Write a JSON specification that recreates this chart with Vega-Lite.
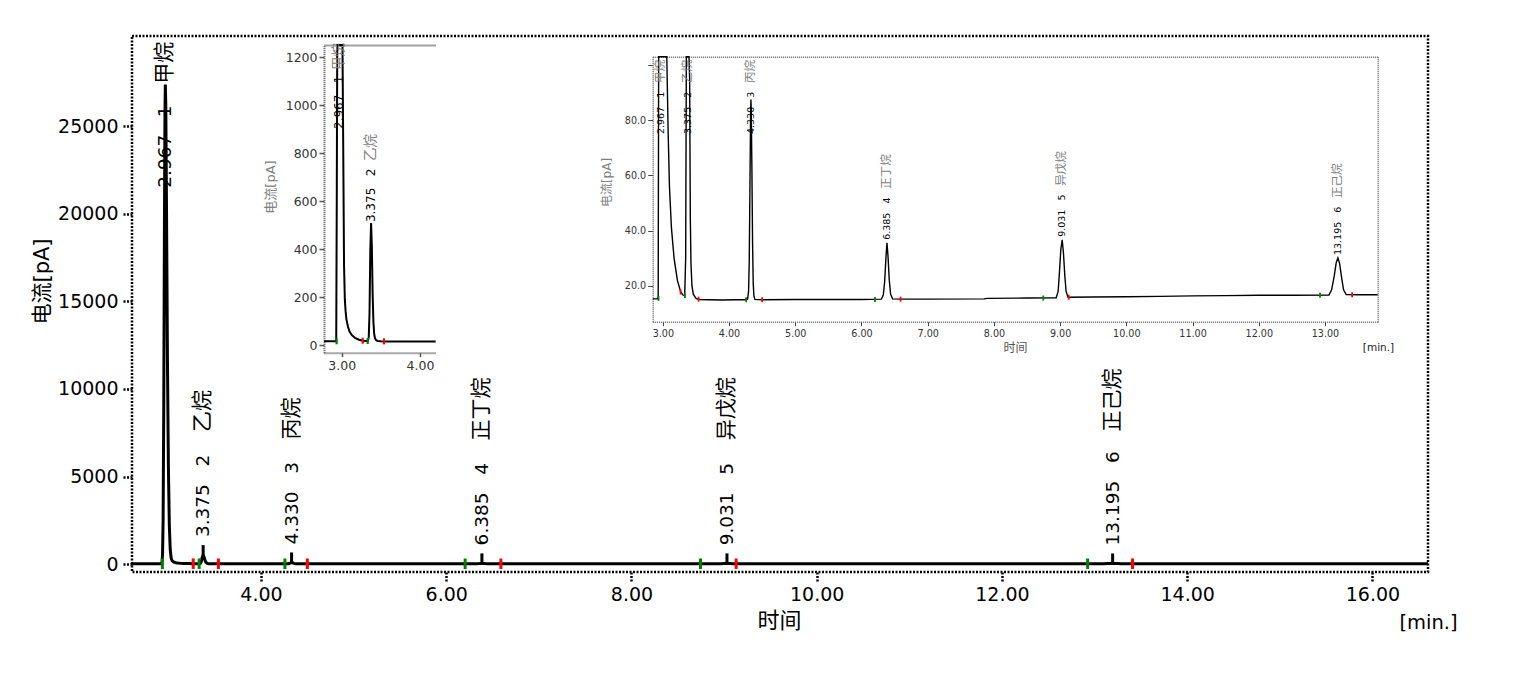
{
  "$schema": "https://vega.github.io/schema/vega-lite/v6.json",
  "width": 1296,
  "height": 536,
  "autosize": {"type": "none"},
  "padding": {"left": 132, "top": 36, "right": 105, "bottom": 110},
  "background": "white",
  "config": {
    "view": {"stroke": "#000", "strokeWidth": 2.5, "strokeDash": [2, 1.5]},
    "axis": {"grid": false}
  },
  "datasets": {
    "chrom": [
      {"t": 2.607, "v": 15.3}, {"t": 2.7, "v": 15.3}, {"t": 2.775, "v": 15.3}, {"t": 2.848, "v": 15.3},
      {"t": 2.92, "v": 15.3}, {"t": 2.93, "v": 16}, {"t": 2.937, "v": 600}, {"t": 2.943, "v": 2500},
      {"t": 2.95, "v": 9000}, {"t": 2.957, "v": 19000}, {"t": 2.963, "v": 25800}, {"t": 2.967, "v": 27400},
      {"t": 2.972, "v": 26200}, {"t": 2.98, "v": 20000}, {"t": 2.99, "v": 11500}, {"t": 3.0, "v": 5500},
      {"t": 3.01, "v": 2200}, {"t": 3.02, "v": 800}, {"t": 3.03, "v": 330}, {"t": 3.04, "v": 190},
      {"t": 3.05, "v": 140}, {"t": 3.06, "v": 108}, {"t": 3.08, "v": 76}, {"t": 3.1, "v": 56},
      {"t": 3.13, "v": 41}, {"t": 3.17, "v": 30}, {"t": 3.22, "v": 22}, {"t": 3.27, "v": 17.8},
      {"t": 3.3, "v": 16.8}, {"t": 3.33, "v": 16.4}, {"t": 3.345, "v": 30}, {"t": 3.355, "v": 130},
      {"t": 3.365, "v": 390}, {"t": 3.375, "v": 508}, {"t": 3.385, "v": 410}, {"t": 3.395, "v": 210},
      {"t": 3.405, "v": 95}, {"t": 3.415, "v": 45}, {"t": 3.425, "v": 28}, {"t": 3.44, "v": 20},
      {"t": 3.46, "v": 17}, {"t": 3.5, "v": 15.5}, {"t": 3.55, "v": 15.1}, {"t": 3.7, "v": 15.0},
      {"t": 3.9, "v": 14.9}, {"t": 4.1, "v": 15.0}, {"t": 4.2, "v": 15.0}, {"t": 4.25, "v": 15.0},
      {"t": 4.28, "v": 15.2}, {"t": 4.295, "v": 18}, {"t": 4.305, "v": 29}, {"t": 4.315, "v": 54},
      {"t": 4.325, "v": 81}, {"t": 4.33, "v": 87.5}, {"t": 4.335, "v": 84}, {"t": 4.345, "v": 63},
      {"t": 4.355, "v": 36}, {"t": 4.365, "v": 21}, {"t": 4.375, "v": 16.5}, {"t": 4.39, "v": 15.1},
      {"t": 4.5, "v": 15.0}, {"t": 5.0, "v": 15.1}, {"t": 5.5, "v": 15.1}, {"t": 6.0, "v": 15.1},
      {"t": 6.3, "v": 15.2}, {"t": 6.33, "v": 16.8}, {"t": 6.35, "v": 21.5}, {"t": 6.37, "v": 30.5},
      {"t": 6.385, "v": 35.6}, {"t": 6.4, "v": 31}, {"t": 6.42, "v": 22}, {"t": 6.44, "v": 17},
      {"t": 6.47, "v": 15.3}, {"t": 6.6, "v": 15.2}, {"t": 7.0, "v": 15.2}, {"t": 7.85, "v": 15.3},
      {"t": 7.9, "v": 15.5}, {"t": 8.5, "v": 15.6}, {"t": 8.94, "v": 15.7}, {"t": 8.97, "v": 18},
      {"t": 8.99, "v": 25}, {"t": 9.01, "v": 33}, {"t": 9.031, "v": 36.7}, {"t": 9.05, "v": 32},
      {"t": 9.07, "v": 24}, {"t": 9.09, "v": 18}, {"t": 9.12, "v": 15.9}, {"t": 9.5, "v": 16.0},
      {"t": 10.0, "v": 16.1}, {"t": 10.5, "v": 16.2}, {"t": 11.0, "v": 16.4}, {"t": 11.5, "v": 16.5},
      {"t": 12.0, "v": 16.6}, {"t": 12.5, "v": 16.6}, {"t": 13.06, "v": 16.7}, {"t": 13.1, "v": 18.6},
      {"t": 13.14, "v": 23.6}, {"t": 13.17, "v": 28.5}, {"t": 13.195, "v": 30.1}, {"t": 13.22, "v": 28.2},
      {"t": 13.25, "v": 23.2}, {"t": 13.28, "v": 18.6}, {"t": 13.32, "v": 16.9}, {"t": 13.5, "v": 16.8},
      {"t": 13.795, "v": 16.8}, {"t": 14.5, "v": 16.9}, {"t": 15.5, "v": 17.0}, {"t": 16.6, "v": 17.0}
    ],
    "marks": [
      {"t": 2.935, "v": 15.5, "kind": "start"}, {"t": 3.268, "v": 17.8, "kind": "end"},
      {"t": 3.332, "v": 16.5, "kind": "start"}, {"t": 3.54, "v": 15.2, "kind": "end"},
      {"t": 4.258, "v": 15.0, "kind": "start"}, {"t": 4.5, "v": 15.0, "kind": "end"},
      {"t": 6.204, "v": 15.1, "kind": "start"}, {"t": 6.59, "v": 15.2, "kind": "end"},
      {"t": 8.745, "v": 15.6, "kind": "start"}, {"t": 9.13, "v": 15.9, "kind": "end"},
      {"t": 12.925, "v": 16.6, "kind": "start"}, {"t": 13.41, "v": 16.8, "kind": "end"}
    ],
    "peaks": [
      {"n": 1, "t": 2.967, "h": 27400, "num": "2.967\u00a0\u00a0\u00a01", "name": "甲烷"},
      {"n": 2, "t": 3.375, "h": 508, "num": "3.375\u00a0\u00a0\u00a02", "name": "乙烷"},
      {"n": 3, "t": 4.33, "h": 87.5, "num": "4.330\u00a0\u00a0\u00a03", "name": "丙烷"},
      {"n": 4, "t": 6.385, "h": 35.6, "num": "6.385\u00a0\u00a0\u00a04", "name": "正丁烷"},
      {"n": 5, "t": 9.031, "h": 36.7, "num": "9.031\u00a0\u00a0\u00a05", "name": "异戊烷"},
      {"n": 6, "t": 13.195, "h": 30.1, "num": "13.195\u00a0\u00a0\u00a06", "name": "正己烷"}
    ]
  },
  "resolve": {
    "scale": {"x": "independent", "y": "independent"},
    "axis": {"x": "independent", "y": "independent"}
  },
  "layer": [
    {
      "resolve": {"axis": {"x": "independent", "y": "independent"}},
      "layer": [
        {
          "data": {"name": "chrom"},
          "mark": {"type": "line", "color": "#000", "strokeWidth": 3},
          "encoding": {
            "x": {"field": "t", "type": "quantitative", "scale": {"domain": [2.607, 16.6], "nice": false, "zero": false},
              "axis": {"orient": "bottom", "values": [4, 6, 8, 10, 12, 14, 16], "format": ".2f", "domain": false,
                "tickSize": 10, "tickWidth": 2.5, "tickDash": [2, 1.5], "tickColor": "#000",
                "labelFont": "DejaVu Sans", "labelFontSize": 19, "labelColor": "#000", "labelPadding": 3,
                "title": "时间", "titleFont": "DejaVu Sans, Noto Sans CJK SC", "titleFontSize": 22, "titleFontWeight": "normal",
                "titleColor": "#000", "titleX": 647, "titleY": 48, "titleAlign": "center", "titleBaseline": "middle"}},
            "y": {"field": "v", "type": "quantitative", "scale": {"domain": [-457, 30171], "nice": false, "zero": false},
              "axis": {"orient": "left", "values": [0, 5000, 10000, 15000, 20000, 25000], "format": "d", "domain": false,
                "tickSize": 10, "tickWidth": 2.5, "tickDash": [2, 1.5], "tickColor": "#000",
                "labelFont": "DejaVu Sans", "labelFontSize": 19, "labelColor": "#000", "labelPadding": 4,
                "title": "电流[pA]", "titleFont": "DejaVu Sans, Noto Sans CJK SC", "titleFontSize": 21, "titleFontWeight": "normal",
                "titleColor": "#000", "titleX": -90, "titleY": 245, "titleAlign": "center", "titleBaseline": "middle", "titleAngle": 270}}
          }
        },
        {
          "data": {"name": "marks"},
          "mark": {"type": "point", "shape": "M0,-1L0,1", "size": 110, "strokeWidth": 3, "filled": false, "opacity": 1},
          "encoding": {
            "x": {"field": "t", "type": "quantitative", "scale": {"domain": [2.607, 16.6], "nice": false, "zero": false}, "axis": null},
            "y": {"field": "v", "type": "quantitative", "scale": {"domain": [-457, 30171], "nice": false, "zero": false}, "axis": null},
            "color": {"field": "kind", "type": "nominal", "scale": {"domain": ["start", "end"], "range": ["#008000", "#ff0000"]}, "legend": null}
          }
        },
        {
          "data": {"name": "peaks"},
          "transform": [{"filter": {"field": "n", "oneOf": [2, 3, 4, 5, 6]}}],
          "mark": {"type": "point", "shape": "M0,0L0,-1", "size": 400, "strokeWidth": 3, "filled": false, "stroke": "#000", "opacity": 1},
          "encoding": {
            "x": {"field": "t", "type": "quantitative", "scale": {"domain": [2.607, 16.6], "nice": false, "zero": false},
              "axis": {"orient": "bottom", "domain": false, "ticks": false, "labels": false,
                "title": "[min.]", "titleFont": "DejaVu Sans", "titleFontSize": 19.5, "titleFontWeight": "normal",
                "titleColor": "#000", "titleX": 1296, "titleY": 50, "titleAlign": "center", "titleBaseline": "middle"}},
            "y": {"field": "h", "type": "quantitative", "scale": {"domain": [-457, 30171], "nice": false, "zero": false}, "axis": null}
          }
        },
        {
          "data": {"name": "peaks"},
          "transform": [{"filter": {"field": "n", "oneOf": [2, 3, 4, 5, 6]}}],
          "mark": {"type": "text", "angle": 270, "align": "left", "baseline": "middle", "dx": 18, "font": "DejaVu Sans", "fontSize": 18.5, "color": "#000"},
          "encoding": {
            "x": {"field": "t", "type": "quantitative", "scale": {"domain": [2.607, 16.6], "nice": false, "zero": false}, "axis": null},
            "y": {"field": "h", "type": "quantitative", "scale": {"domain": [-457, 30171], "nice": false, "zero": false}, "axis": null},
            "text": {"field": "num"}
          }
        },
        {
          "data": {"name": "peaks"},
          "transform": [{"filter": {"field": "n", "oneOf": [2, 3, 4, 5]}}],
          "mark": {"type": "text", "angle": 270, "align": "left", "baseline": "middle", "dx": 123, "font": "Noto Sans CJK SC", "fontSize": 21, "color": "#000"},
          "encoding": {
            "x": {"field": "t", "type": "quantitative", "scale": {"domain": [2.607, 16.6], "nice": false, "zero": false}, "axis": null},
            "y": {"field": "h", "type": "quantitative", "scale": {"domain": [-457, 30171], "nice": false, "zero": false}, "axis": null},
            "text": {"field": "name"}
          }
        },
        {
          "data": {"name": "peaks"},
          "transform": [{"filter": {"field": "n", "oneOf": [6]}}],
          "mark": {"type": "text", "angle": 270, "align": "left", "baseline": "middle", "dx": 132, "font": "Noto Sans CJK SC", "fontSize": 21, "color": "#000"},
          "encoding": {
            "x": {"field": "t", "type": "quantitative", "scale": {"domain": [2.607, 16.6], "nice": false, "zero": false}, "axis": null},
            "y": {"field": "h", "type": "quantitative", "scale": {"domain": [-457, 30171], "nice": false, "zero": false}, "axis": null},
            "text": {"field": "name"}
          }
        },
        {
          "data": {"name": "peaks"},
          "transform": [{"filter": {"field": "n", "oneOf": [1]}}],
          "mark": {"type": "text", "angle": 270, "align": "left", "baseline": "middle", "dx": 0, "font": "DejaVu Sans", "fontSize": 18.5, "color": "#000"},
          "encoding": {
            "x": {"field": "t", "type": "quantitative", "scale": {"domain": [2.607, 16.6], "nice": false, "zero": false}, "axis": null},
            "y": {"datum": 21500, "type": "quantitative", "scale": {"domain": [-457, 30171], "nice": false, "zero": false}, "axis": null},
            "text": {"field": "num"}
          }
        },
        {
          "data": {"name": "peaks"},
          "transform": [{"filter": {"field": "n", "oneOf": [1]}}],
          "mark": {"type": "text", "angle": 270, "align": "left", "baseline": "middle", "dx": 104, "font": "Noto Sans CJK SC", "fontSize": 21, "color": "#000"},
          "encoding": {
            "x": {"field": "t", "type": "quantitative", "scale": {"domain": [2.607, 16.6], "nice": false, "zero": false}, "axis": null},
            "y": {"datum": 21500, "type": "quantitative", "scale": {"domain": [-457, 30171], "nice": false, "zero": false}, "axis": null},
            "text": {"field": "name"}
          }
        }
      ]
    },
    {
      "resolve": {"axis": {"x": "independent", "y": "independent"}},
      "layer": [
        {
          "data": {"name": "chrom"},
          "transform": [{"filter": {"field": "t", "range": [2.774, 4.204]}}],
          "mark": {"type": "line", "color": "#000", "strokeWidth": 2},
          "encoding": {
            "x": {"field": "t", "type": "quantitative", "scale": {"domain": [2.774, 4.204], "range": [192, 304], "nice": false, "zero": false},
              "axis": {"orient": "bottom", "offset": -219.3, "values": [3, 4], "format": ".2f",
                "domainColor": "#555", "domainWidth": 2, "domainDash": [1, 1],
                "tickColor": "#555", "tickSize": 4, "tickWidth": 1.5,
                "labelFont": "DejaVu Sans", "labelFontSize": 12.5, "labelColor": "#333", "labelPadding": 3, "title": null}},
            "y": {"field": "v", "type": "quantitative", "scale": {"domain": [-32, 1250], "range": [316.7, 9], "nice": false, "zero": false, "clamp": true},
              "axis": {"orient": "left", "offset": -192, "values": [0, 200, 400, 600, 800, 1000, 1200], "format": "d",
                "domainColor": "#555", "domainWidth": 2, "domainDash": [1, 1],
                "tickColor": "#555", "tickSize": 5, "tickWidth": 1.5,
                "labelFont": "DejaVu Sans", "labelFontSize": 12.5, "labelColor": "#333", "labelPadding": 2,
                "title": "电流[pA]", "titleFont": "DejaVu Sans, Noto Sans CJK SC", "titleFontSize": 13, "titleFontWeight": "normal",
                "titleColor": "#808080", "titleX": -54, "titleY": 150.5, "titleAlign": "center", "titleBaseline": "middle", "titleAngle": 270}}
          }
        },
        {
          "data": {"name": "marks"},
          "transform": [{"filter": {"field": "t", "range": [2.774, 4.204]}}],
          "mark": {"type": "point", "shape": "M0,-1L0,1", "size": 36, "strokeWidth": 2.2, "filled": false, "opacity": 1},
          "encoding": {
            "x": {"field": "t", "type": "quantitative", "scale": {"domain": [2.774, 4.204], "range": [192, 304], "nice": false, "zero": false},
              "axis": {"orient": "top", "offset": -9, "domainColor": "#444", "domainWidth": 2, "domainDash": [1, 1], "ticks": false, "labels": false, "title": null}},
            "y": {"field": "v", "type": "quantitative", "scale": {"domain": [-32, 1250], "range": [316.7, 9], "nice": false, "zero": false, "clamp": true}, "axis": null},
            "color": {"field": "kind", "type": "nominal", "scale": {"domain": ["start", "end"], "range": ["#008000", "#ff0000"]}, "legend": null}
          }
        },
        {
          "data": {"name": "peaks"},
          "transform": [{"filter": {"field": "n", "oneOf": [2]}}],
          "mark": {"type": "text", "angle": 270, "align": "left", "baseline": "middle", "dx": 1, "font": "DejaVu Sans", "fontSize": 12, "color": "#000"},
          "encoding": {
            "x": {"field": "t", "type": "quantitative", "scale": {"domain": [2.774, 4.204], "range": [192, 304], "nice": false, "zero": false}, "axis": null},
            "y": {"field": "h", "type": "quantitative", "scale": {"domain": [-32, 1250], "range": [316.7, 9], "nice": false, "zero": false, "clamp": true}, "axis": null},
            "text": {"field": "num"}
          }
        },
        {
          "data": {"name": "peaks"},
          "transform": [{"filter": {"field": "n", "oneOf": [2]}}],
          "mark": {"type": "text", "angle": 270, "align": "left", "baseline": "middle", "dx": 62, "font": "Noto Sans CJK SC", "fontSize": 13.5, "color": "#808080"},
          "encoding": {
            "x": {"field": "t", "type": "quantitative", "scale": {"domain": [2.774, 4.204], "range": [192, 304], "nice": false, "zero": false}, "axis": null},
            "y": {"field": "h", "type": "quantitative", "scale": {"domain": [-32, 1250], "range": [316.7, 9], "nice": false, "zero": false, "clamp": true}, "axis": null},
            "text": {"field": "name"}
          }
        },
        {
          "data": {"name": "peaks"},
          "transform": [{"filter": {"field": "n", "oneOf": [1]}}],
          "mark": {"type": "text", "angle": 270, "align": "left", "baseline": "middle", "dx": 0, "font": "DejaVu Sans", "fontSize": 12, "color": "#000"},
          "encoding": {
            "x": {"field": "t", "type": "quantitative", "scale": {"domain": [2.774, 4.204], "range": [192, 304], "nice": false, "zero": false}, "axis": null},
            "y": {"datum": 900, "type": "quantitative", "scale": {"domain": [-32, 1250], "range": [316.7, 9], "nice": false, "zero": false, "clamp": true}, "axis": null},
            "text": {"field": "num"}
          }
        },
        {
          "data": {"name": "peaks"},
          "transform": [{"filter": {"field": "n", "oneOf": [1]}}],
          "mark": {"type": "text", "angle": 270, "align": "left", "baseline": "middle", "dx": 59, "font": "Noto Sans CJK SC", "fontSize": 13.5, "color": "#808080"},
          "encoding": {
            "x": {"field": "t", "type": "quantitative", "scale": {"domain": [2.774, 4.204], "range": [192, 304], "nice": false, "zero": false}, "axis": null},
            "y": {"datum": 900, "type": "quantitative", "scale": {"domain": [-32, 1250], "range": [316.7, 9], "nice": false, "zero": false, "clamp": true}, "axis": null},
            "text": {"field": "name"}
          }
        }
      ]
    },
    {
      "resolve": {"axis": {"x": "independent", "y": "independent"}},
      "layer": [
        {
          "data": {"name": "chrom"},
          "transform": [{"filter": {"field": "t", "range": [2.847, 13.796]}}],
          "mark": {"type": "line", "color": "#000", "strokeWidth": 1.4},
          "encoding": {
            "x": {"field": "t", "type": "quantitative", "scale": {"domain": [2.847, 13.796], "range": [520.7, 1245.7], "nice": false, "zero": false},
              "axis": {"orient": "bottom", "offset": -250.3, "values": [3, 4, 5, 6, 7, 8, 9, 10, 11, 12, 13], "format": ".2f",
                "domainColor": "#666", "domainWidth": 1.5, "domainDash": [1, 1],
                "tickColor": "#444", "tickSize": 4, "tickWidth": 1,
                "labelFont": "DejaVu Sans", "labelFontSize": 9.6, "labelColor": "#333", "labelPadding": 3,
                "title": "时间", "titleFont": "DejaVu Sans, Noto Sans CJK SC", "titleFontSize": 12, "titleFontWeight": "normal",
                "titleColor": "#555", "titleX": 883, "titleY": 25.3, "titleAlign": "center", "titleBaseline": "middle"}},
            "y": {"field": "v", "type": "quantitative", "scale": {"domain": [7.04, 103], "range": [285.7, 20.7], "nice": false, "zero": false, "clamp": true},
              "axis": {"orient": "left", "offset": -520.7, "values": [20, 40, 60, 80, 100], "format": ".1f",
                "labelExpr": "datum.value >= 100 ? '' : datum.label",
                "domainColor": "#666", "domainWidth": 1.5, "domainDash": [1, 1],
                "tickColor": "#444", "tickSize": 5, "tickWidth": 1,
                "labelFont": "DejaVu Sans", "labelFontSize": 9.6, "labelColor": "#333", "labelPadding": 2,
                "title": "电流[pA]", "titleFont": "DejaVu Sans, Noto Sans CJK SC", "titleFontSize": 12, "titleFontWeight": "normal",
                "titleColor": "#808080", "titleX": -46, "titleY": 146, "titleAlign": "center", "titleBaseline": "middle", "titleAngle": 270}}
          }
        },
        {
          "data": {"name": "marks"},
          "transform": [{"filter": {"field": "t", "range": [2.847, 13.796]}}],
          "mark": {"type": "point", "shape": "M0,-1L0,1", "size": 25, "strokeWidth": 1.8, "filled": false, "opacity": 1},
          "encoding": {
            "x": {"field": "t", "type": "quantitative", "scale": {"domain": [2.847, 13.796], "range": [520.7, 1245.7], "nice": false, "zero": false},
              "axis": {"orient": "top", "offset": -20.7, "domainColor": "#666", "domainWidth": 1.5, "domainDash": [1, 1], "ticks": false, "labels": false, "title": null}},
            "y": {"field": "v", "type": "quantitative", "scale": {"domain": [7.04, 103], "range": [285.7, 20.7], "nice": false, "zero": false, "clamp": true},
              "axis": {"orient": "right", "offset": -50.3, "domainColor": "#666", "domainWidth": 1.5, "domainDash": [1, 1], "ticks": false, "labels": false, "title": null}},
            "color": {"field": "kind", "type": "nominal", "scale": {"domain": ["start", "end"], "range": ["#008000", "#ff0000"]}, "legend": null}
          }
        },
        {
          "data": {"name": "peaks"},
          "transform": [{"filter": {"field": "n", "oneOf": [1, 2, 3]}}],
          "mark": {"type": "text", "angle": 270, "align": "left", "baseline": "middle", "dx": 0, "font": "DejaVu Sans", "fontSize": 9.5, "color": "#000"},
          "encoding": {
            "x": {"field": "t", "type": "quantitative", "scale": {"domain": [2.847, 13.796], "range": [520.7, 1245.7], "nice": false, "zero": false},
              "axis": {"orient": "bottom", "offset": -250.3, "domain": false, "ticks": false, "labels": false,
                "title": "[min.]", "titleFont": "DejaVu Sans", "titleFontSize": 10.5, "titleFontWeight": "normal",
                "titleColor": "#222", "titleX": 1246, "titleY": 25.3, "titleAlign": "center", "titleBaseline": "middle"}},
            "y": {"datum": 75, "type": "quantitative", "scale": {"domain": [7.04, 103], "range": [285.7, 20.7], "nice": false, "zero": false, "clamp": true}, "axis": null},
            "text": {"field": "num"}
          }
        },
        {
          "data": {"name": "peaks"},
          "transform": [{"filter": {"field": "n", "oneOf": [1, 2, 3]}}],
          "mark": {"type": "text", "angle": 270, "align": "left", "baseline": "middle", "dx": 51, "font": "Noto Sans CJK SC", "fontSize": 11.5, "color": "#808080"},
          "encoding": {
            "x": {"field": "t", "type": "quantitative", "scale": {"domain": [2.847, 13.796], "range": [520.7, 1245.7], "nice": false, "zero": false}, "axis": null},
            "y": {"datum": 75, "type": "quantitative", "scale": {"domain": [7.04, 103], "range": [285.7, 20.7], "nice": false, "zero": false, "clamp": true}, "axis": null},
            "text": {"field": "name"}
          }
        },
        {
          "data": {"name": "peaks"},
          "transform": [{"filter": {"field": "n", "oneOf": [4, 5, 6]}}],
          "mark": {"type": "text", "angle": 270, "align": "left", "baseline": "middle", "dx": 3, "font": "DejaVu Sans", "fontSize": 9.5, "color": "#000"},
          "encoding": {
            "x": {"field": "t", "type": "quantitative", "scale": {"domain": [2.847, 13.796], "range": [520.7, 1245.7], "nice": false, "zero": false}, "axis": null},
            "y": {"field": "h", "type": "quantitative", "scale": {"domain": [7.04, 103], "range": [285.7, 20.7], "nice": false, "zero": false, "clamp": true}, "axis": null},
            "text": {"field": "num"}
          }
        },
        {
          "data": {"name": "peaks"},
          "transform": [{"filter": {"field": "n", "oneOf": [4, 5]}}],
          "mark": {"type": "text", "angle": 270, "align": "left", "baseline": "middle", "dx": 54, "font": "Noto Sans CJK SC", "fontSize": 11.5, "color": "#808080"},
          "encoding": {
            "x": {"field": "t", "type": "quantitative", "scale": {"domain": [2.847, 13.796], "range": [520.7, 1245.7], "nice": false, "zero": false}, "axis": null},
            "y": {"field": "h", "type": "quantitative", "scale": {"domain": [7.04, 103], "range": [285.7, 20.7], "nice": false, "zero": false, "clamp": true}, "axis": null},
            "text": {"field": "name"}
          }
        },
        {
          "data": {"name": "peaks"},
          "transform": [{"filter": {"field": "n", "oneOf": [6]}}],
          "mark": {"type": "text", "angle": 270, "align": "left", "baseline": "middle", "dx": 60, "font": "Noto Sans CJK SC", "fontSize": 11.5, "color": "#808080"},
          "encoding": {
            "x": {"field": "t", "type": "quantitative", "scale": {"domain": [2.847, 13.796], "range": [520.7, 1245.7], "nice": false, "zero": false}, "axis": null},
            "y": {"field": "h", "type": "quantitative", "scale": {"domain": [7.04, 103], "range": [285.7, 20.7], "nice": false, "zero": false, "clamp": true}, "axis": null},
            "text": {"field": "name"}
          }
        }
      ]
    }
  ]
}
